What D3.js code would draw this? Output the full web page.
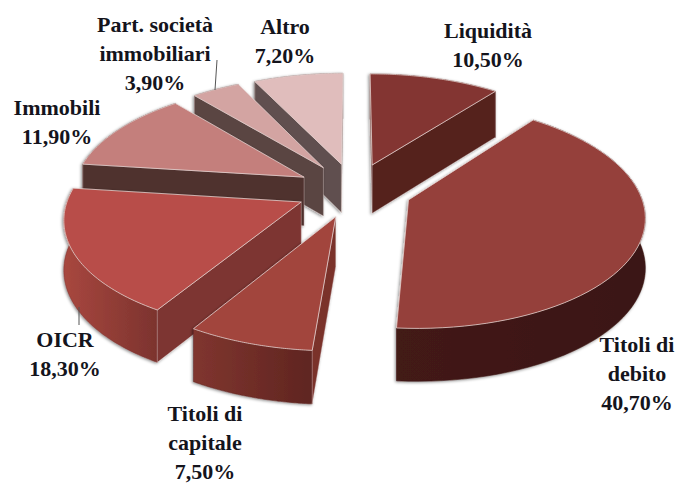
<!DOCTYPE html>
<html>
<head>
<meta charset="utf-8">
<script src="https://cdn.jsdelivr.net/npm/d3@7"></script>
<style>
  html, body { margin: 0; padding: 0; background: #fff; }
  svg { display: block; }
  text { font-family: "Liberation Serif", serif; font-weight: bold; fill: #14141c; text-anchor: middle; }
</style>
</head>
<body>
<svg id="chart" width="677" height="484"></svg>
<script>
// values, clockwise from the top
const categories = ["Liquidità", "Titoli di debito", "Titoli di capitale", "OICR", "Immobili", "Part. società immobiliari", "Altro"];
const shares = [10.5, 40.7, 7.5, 18.3, 11.9, 3.9, 7.2];
const labelLines = [["Liquidità"], ["Titoli di", "debito"], ["Titoli di", "capitale"], ["OICR"], ["Immobili"], ["Part. società", "immobiliari"], ["Altro"]];

const topColors = ["#833631", "#953f3a", "#a2453e", "#b84e48", "#c47f7c", "#d3a4a2", "#e0bdbc"];
const wallLight = ["#5a221d", "#431a16", "#80352f", "#a8473f", "#512f2d", "#5a4543", "#61504f"];
const wallDark = ["#4e1d19", "#3a1512", "#5f2520", "#7c332e", "#4c2d2b", "#554140", "#5f4f4e"];
const cutColors = ["#54201c", "#431a16", "#7a302b", "#7d3430", "#4f302e", "#5a4543", "#61504f"];

// label anchors: centre x, first baseline
const labelX = [488, 637, 205, 65, 57, 155, 285];
const labelY = [38, 352, 421, 347, 115, 32, 34];
const lineGap = 29;

// pie geometry (tilted disc with some perspective)
const cx = 354, cy = 190;
const radiusX = 231, radiusY = 109;
const persp = 0.13;
const explode = 0.25;
const depth = 49;

const svg = d3.select("#chart");
const defs = svg.append("defs");

const shadow = defs.append("filter").attr("id", "shadow")
  .attr("x", "-10%").attr("y", "-10%").attr("width", "120%").attr("height", "120%");
shadow.append("feDropShadow").attr("dx", -1).attr("dy", 1)
  .attr("stdDeviation", 1.6).attr("flood-color", "#000").attr("flood-opacity", 0.45);

const percent = d3.formatLocale({ decimal: ",", thousands: ".", grouping: [3], currency: ["", "€"] }).format(".2f");

const pie = d3.pie().sort(null).value(d => d);
const arcs = pie(shares);

// unit disc point -> screen; dz is how far down the extrusion we are
function project(ux, uy, dz) {
  const s = 1 / (1 - persp * uy);
  return [cx + radiusX * ux * s, cy + radiusY * uy * s + dz * Math.sqrt(s)];
}

const line = d3.line();

const slices = arcs.map((a, i) => {
  const mid = (a.startAngle + a.endAngle) / 2;
  const ox = explode * Math.sin(mid), oy = -explode * Math.cos(mid);
  const pt = (t, r, dz) => project(ox + r * Math.sin(t), oy - r * Math.cos(t), dz);
  const steps = d3.range(0, 61).map(k => a.startAngle + (a.endAngle - a.startAngle) * k / 60);
  return { i, mid, pt, steps, a, oy };
});

// back slices first
d3.sort(slices, d => -Math.cos(d.mid)).forEach(sl => {
  const { i, pt, steps, a } = sl;
  const g = svg.append("g").attr("class", "slice").attr("filter", "url(#shadow)");

  const grad = defs.append("linearGradient").attr("id", "wall" + i);
  grad.append("stop").attr("offset", 0).attr("stop-color", wallLight[i]);
  grad.append("stop").attr("offset", 1).attr("stop-color", wallDark[i]);

  const topArc = steps.map(t => pt(t, 1, 0));
  const lowArc = steps.map(t => pt(t, 1, depth)).reverse();
  const apex = pt(0, 0, 0), apexLow = pt(0, 0, depth);

  // outer wall
  g.append("path").attr("d", line(topArc.concat(lowArc)) + "Z")
    .attr("fill", `url(#wall${i})`)
    .attr("stroke", wallDark[i]).attr("stroke-width", 0.5);

  // the flat cut faces, only when they look towards the viewer
  const inner = pt((a.startAngle + a.endAngle) / 2, 0.5, 0);
  [a.startAngle, a.endAngle].forEach(t => {
    const p = pt(t, 1, 0), q = pt(t, 1, depth);
    const side = pp => (p[0] - apex[0]) * (pp[1] - apex[1]) - (p[1] - apex[1]) * (pp[0] - apex[0]);
    if (side(inner) * side(apexLow) < 0) {
      g.append("path").attr("d", line([apex, p, q, apexLow]) + "Z")
        .attr("fill", cutColors[i]).attr("stroke", "#d9c7c5").attr("stroke-width", 0.4);
    }
  });

  // top of the slice
  g.append("path").attr("d", line([apex].concat(topArc)) + "Z")
    .attr("fill", topColors[i])
    .attr("stroke", "#e3cfcd").attr("stroke-width", 0.8);
});

// leader lines
const leaders = [[[217, 60], [215, 90]], [[79, 307], [79, 325]]];
svg.selectAll("path.leader").data(leaders).join("path").attr("class", "leader")
  .attr("d", d => line(d)).attr("stroke", "#555").attr("stroke-width", 1).attr("fill", "none");

// labels
const labels = svg.selectAll("text.label").data(categories).join("text")
  .attr("class", "label").attr("font-size", 22);
labels.each(function(d, i) {
  const rows = labelLines[i].concat(percent(shares[i]) + "%");
  d3.select(this).selectAll("tspan").data(rows).join("tspan")
    .attr("x", labelX[i])
    .attr("y", (r, k) => labelY[i] + k * lineGap)
    .text(r => r);
});
</script>
</body>
</html>
